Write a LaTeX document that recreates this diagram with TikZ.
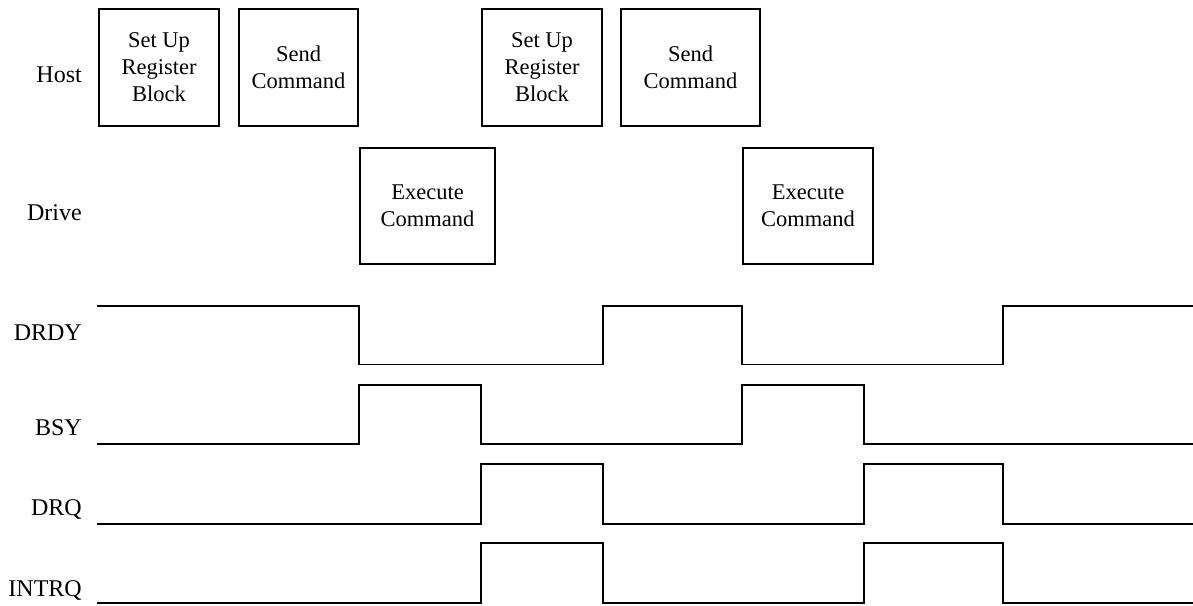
\documentclass[tikz,border=0pt]{standalone}
\usepackage{fontspec}
\setmainfont{Liberation Serif}
\begin{document}
\begin{tikzpicture}[x=1pt,y=-1pt,
  box/.style={draw, line width=1.6pt, inner sep=0pt, align=center,
              font=\fontsize{22.5}{27}\selectfont},
  lbl/.style={anchor=base east, inner sep=0pt, font=\fontsize{24}{28}\selectfont},
  wave/.style={line width=1.6pt, line join=miter}]
\useasboundingbox (0,0) rectangle (1193,605);

% row labels
\node[lbl] (host)  at (82,82)    {Host};
\node[lbl] (drive) at (82,220)   {Drive};
\node[lbl] (drdy)  at (82,340.7) {DRDY};
\node[lbl] (bsy)   at (82,435.3) {BSY};
\node[lbl] (drq)   at (82,515)   {DRQ};
\node[lbl] (intrq) at (82,596.7) {INTRQ};

% host boxes
\node[box, minimum width=120.5pt, minimum height=117.5pt] (setup1) at (159,67.5) {Set Up\\Register\\Block};
\node[box, minimum width=119.5pt, minimum height=117.5pt] (send1)  at (298.5,67.5) {Send\\Command};
\node[box, minimum width=120.5pt, minimum height=117.5pt] (setup2) at (542,67.5) {Set Up\\Register\\Block};
\node[box, minimum width=139.5pt, minimum height=117.5pt] (send2)  at (690.5,67.5) {Send\\Command};

% drive boxes
\node[box, minimum width=135.5pt, minimum height=116.5pt] (exec1) at (427.5,206) {Execute\\Command};
\node[box, minimum width=130.5pt, minimum height=116.5pt] (exec2) at (808,206) {Execute\\Command};

% waveforms
\draw[wave] (97,306) -- (359,306) -- (359,364.5) -- (603,364.5) -- (603,306)
  -- (742,306) -- (742,364.5) -- (1003,364.5) -- (1003,306) -- (1193,306);
\draw[wave] (97,443.7) -- (359,443.7) -- (359,385) -- (481,385) -- (481,443.7)
  -- (742,443.7) -- (742,385) -- (864,385) -- (864,443.7) -- (1193,443.7);
\draw[wave] (97,523.7) -- (481,523.7) -- (481,463.7) -- (603,463.7) -- (603,523.7)
  -- (864,523.7) -- (864,463.7) -- (1003,463.7) -- (1003,523.7) -- (1193,523.7);
\draw[wave] (97,602.7) -- (481,602.7) -- (481,543) -- (603,543) -- (603,602.7)
  -- (864,602.7) -- (864,543) -- (1003,543) -- (1003,602.7) -- (1193,602.7);
\end{tikzpicture}
\end{document}
